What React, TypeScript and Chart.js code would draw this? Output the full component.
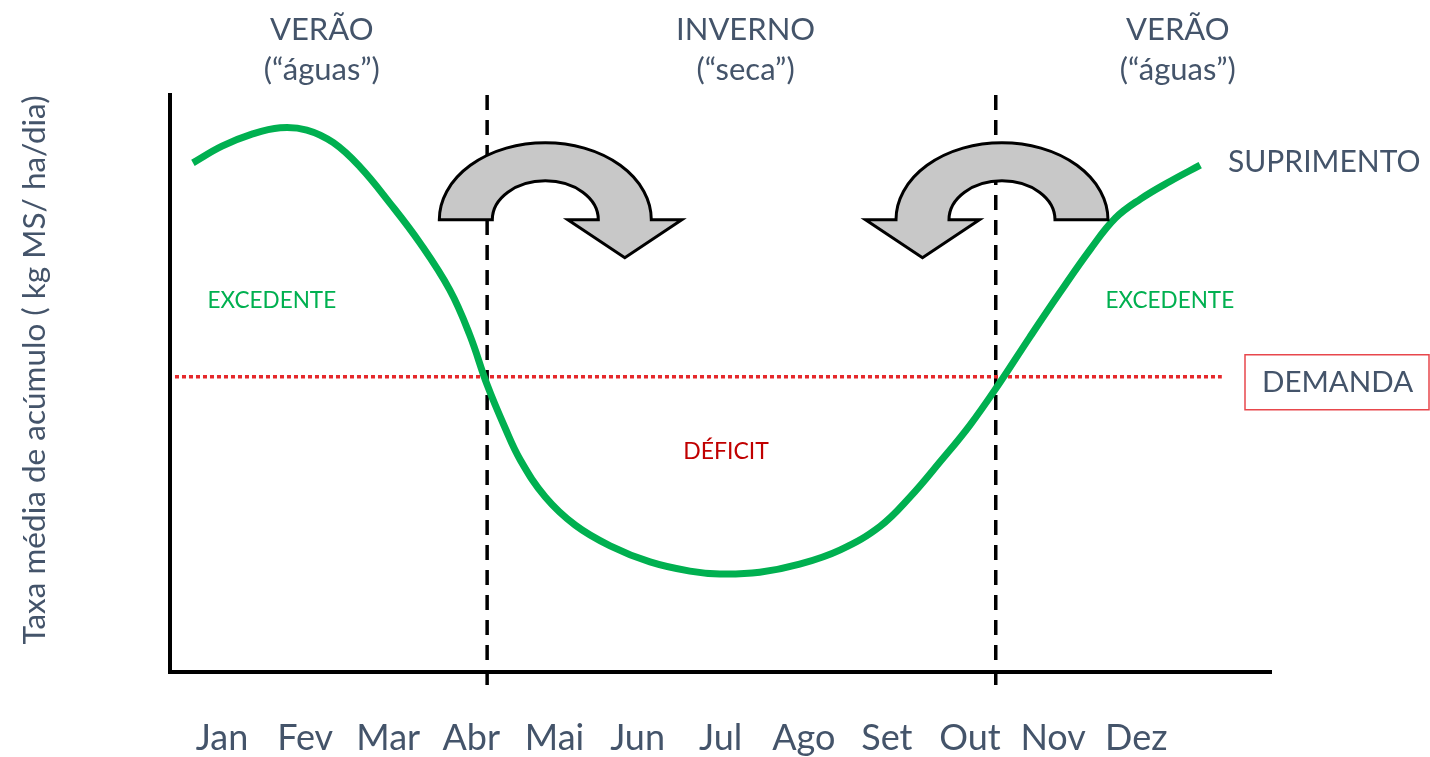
import React, { useEffect, useRef } from "react";
import { Chart, registerables } from "chart.js";

Chart.register(...registerables);

// ---- data ----
const monthLabels = ["Jan", "Fev", "Mar", "Abr", "Mai", "Jun", "Jul", "Ago", "Set", "Out", "Nov", "Dez"];
const supplyX = [-0.35, 0, 0.36, 0.7, 1.02, 1.34, 1.66, 2.02, 2.38, 2.74, 2.98, 3.19, 3.4, 3.59, 3.89, 4.25, 4.67, 5.15, 5.63, 5.99, 6.47, 6.95, 7.44, 7.92, 8.28, 8.64, 9.0, 9.36, 9.72, 10.08, 10.45, 10.75, 11.05, 11.41, 11.77];
const supplyY = [88.2, 91.1, 93.2, 94.3, 93.9, 91.7, 87.5, 81.2, 74.3, 66.1, 58.3, 49.6, 42.3, 36.5, 30.1, 25.2, 21.6, 18.8, 17.2, 16.7, 17.0, 18.4, 20.9, 25.0, 30.1, 36.2, 42.6, 50.0, 57.9, 65.6, 73.2, 78.6, 81.9, 85.0, 87.8];
const demandX = [-0.566, 12.03];
const demandY = [51.0, 51.0];
const seasonBoundaries = [3.19, 9.31];
const boundaryYRange = [-2.6, 100];
const seasonLabels = [
  { x: 1.2, lines: ["VERÃO", "(“águas”)"] },
  { x: 6.3, lines: ["INVERNO", "(“seca”)"] },
  { x: 11.5, lines: ["VERÃO", "(“águas”)"] },
];
const yTitle = "Taxa média de acúmulo ( kg MS/ ha/dia)";

const TEXT = "#44546A";
const GREEN = "#00B050";
const FONT = "Lato, 'Open Sans', sans-serif";

const overlay = {
  id: "overlay",
  afterDatasetsDraw(chart: any) {
    const ctx = chart.ctx as CanvasRenderingContext2D;
    const xs = chart.scales.x;
    const ys = chart.scales.y;
    const ca = chart.chartArea;
    ctx.save();

    // axes
    ctx.strokeStyle = "#000";
    ctx.lineWidth = 4;
    ctx.lineCap = "butt";
    ctx.beginPath();
    ctx.moveTo(ca.left, ca.top - 2);
    ctx.lineTo(ca.left, ca.bottom + 2);
    ctx.lineTo(ca.right, ca.bottom + 2);
    ctx.stroke();

    // curved arrows
    const drawArrow = (cx: number, cy: number, dir: number) => {
      const ro = 106, ryo = 77, ri = 53, ryi = 39;
      const mid = (ro + ri) / 2;
      const hw = 57;
      ctx.beginPath();
      if (dir > 0) {
        ctx.moveTo(cx - ro, cy);
        ctx.ellipse(cx, cy, ro, ryo, 0, Math.PI, 2 * Math.PI, false);
        ctx.lineTo(cx + mid + hw, cy);
        ctx.lineTo(cx + mid, cy + 38);
        ctx.lineTo(cx + mid - hw, cy);
        ctx.lineTo(cx + ri, cy);
        ctx.ellipse(cx, cy, ri, ryi, 0, 0, Math.PI, true);
        ctx.closePath();
      } else {
        ctx.moveTo(cx + ro, cy);
        ctx.ellipse(cx, cy, ro, ryo, 0, 2 * Math.PI, Math.PI, true);
        ctx.lineTo(cx - mid - hw, cy);
        ctx.lineTo(cx - mid, cy + 38);
        ctx.lineTo(cx - mid + hw, cy);
        ctx.lineTo(cx - ri, cy);
        ctx.ellipse(cx, cy, ri, ryi, 0, Math.PI, 2 * Math.PI, false);
        ctx.closePath();
      }
      ctx.fillStyle = "#C8C8C8";
      ctx.fill();
      ctx.strokeStyle = "#000";
      ctx.lineWidth = 3;
      ctx.lineJoin = "miter";
      ctx.stroke();
    };
    drawArrow(xs.getPixelForValue(3.89), ys.getPixelForValue(78.3), 1);
    drawArrow(xs.getPixelForValue(9.385), ys.getPixelForValue(78.3), -1);

    // month labels
    ctx.fillStyle = TEXT;
    ctx.textAlign = "center";
    ctx.textBaseline = "middle";
    ctx.font = `36px ${FONT}`;
    monthLabels.forEach((m, i) => {
      ctx.fillText(m, xs.getPixelForValue(i), 738);
    });

    // season labels
    ctx.font = `31px ${FONT}`;
    seasonLabels.forEach((s) => {
      const px = xs.getPixelForValue(s.x);
      ctx.fillText(s.lines[0], px, 30);
      ctx.fillText(s.lines[1], px, 70);
    });

    // SUPRIMENTO
    ctx.textAlign = "left";
    ctx.font = `30px ${FONT}`;
    ctx.fillText("SUPRIMENTO", 1228, 162);

    // DEMANDA box
    const dy = ys.getPixelForValue(demandY[0]);
    ctx.strokeStyle = "#E8474C";
    ctx.lineWidth = 1.5;
    ctx.strokeRect(1245, dy - 22, 184, 55);
    ctx.fillStyle = TEXT;
    ctx.font = `29.5px ${FONT}`;
    ctx.fillText("DEMANDA", 1262, dy + 6);

    // EXCEDENTE / DÉFICIT
    ctx.textAlign = "center";
    ctx.font = `22.5px ${FONT}`;
    ctx.fillStyle = GREEN;
    ctx.fillText("EXCEDENTE", xs.getPixelForValue(0.6), ys.getPixelForValue(64.3));
    ctx.fillText("EXCEDENTE", xs.getPixelForValue(11.405), ys.getPixelForValue(64.3));
    ctx.fillStyle = "#C00000";
    ctx.font = `23px ${FONT}`;
    ctx.fillText("DÉFICIT", xs.getPixelForValue(6.065), ys.getPixelForValue(37.9));

    // y title
    ctx.fillStyle = TEXT;
    ctx.font = `31.5px ${FONT}`;
    ctx.translate(35, 370);
    ctx.rotate(-Math.PI / 2);
    ctx.fillText(yTitle, 0, 0);
    ctx.restore();
  },
};

export default function App() {
  const ref = useRef<HTMLCanvasElement | null>(null);
  useEffect(() => {
    if (!ref.current) return;
    const chart = new Chart(ref.current, {
      type: "scatter",
      data: {
        datasets: [
          {
            label: "Suprimento",
            data: supplyX.map((x, i) => ({ x, y: supplyY[i] })),
            showLine: true,
            borderColor: GREEN,
            borderWidth: 7,
            pointRadius: 0,
            tension: 0.4,
            borderCapStyle: "butt",
            order: 0,
            clip: false,
          } as any,
          {
            label: "Demanda",
            data: demandX.map((x, i) => ({ x, y: demandY[i] })),
            showLine: true,
            borderColor: "#E5282B",
            borderWidth: 3.5,
            borderDash: [4, 3],
            pointRadius: 0,
            order: 1,
            clip: false,
          } as any,
          ...seasonBoundaries.map((b) => ({
            label: "limite",
            data: boundaryYRange.map((y) => ({ x: b, y })),
            showLine: true,
            borderColor: "#000",
            borderWidth: 3.5,
            borderDash: [15, 10],
            pointRadius: 0,
            order: 2,
            clip: false,
          })) as any,
        ],
      },
      options: {
        responsive: false,
        animation: false,
        devicePixelRatio: 1,
        layout: { padding: { left: 170, right: 158, top: 95, bottom: 87 } },
        plugins: { legend: { display: false }, tooltip: { enabled: false }, title: { display: false } },
        scales: {
          x: { type: "linear", min: -0.626, max: 12.634, display: false },
          y: { type: "linear", min: 0, max: 100, display: false },
        },
      },
      plugins: [overlay],
    });
    return () => chart.destroy();
  }, []);
  return (
    <div style={{ position: "absolute", left: 0, top: 0, width: 1430, height: 757, background: "#fff" }}>
      <canvas ref={ref} width={1430} height={757} />
    </div>
  );
}
